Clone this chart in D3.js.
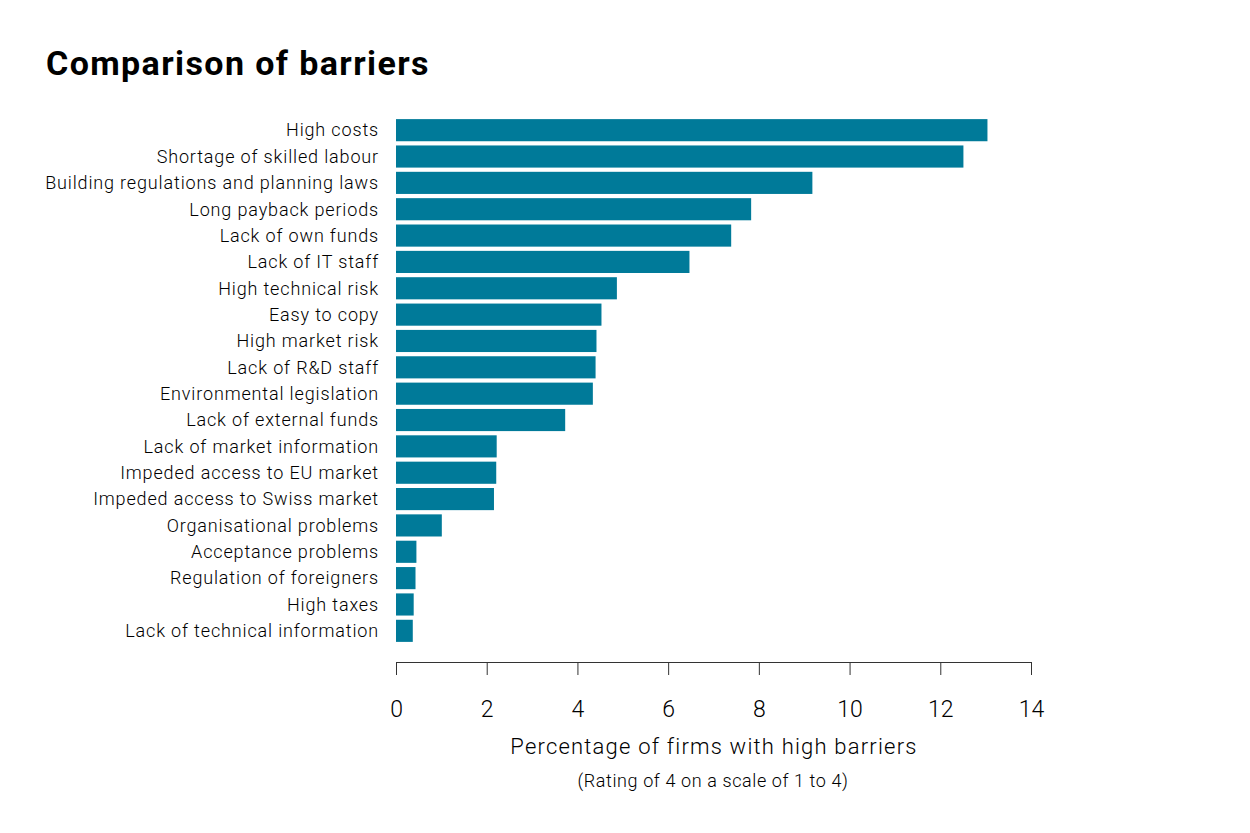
<!DOCTYPE html>
<html>
<head>
<meta charset="utf-8">
<style>
  body { margin: 0; background: #fff; }
  svg { font-family: Roboto, "Liberation Sans", sans-serif; }
</style>
</head>
<body>
<svg width="1250" height="833"></svg>
<script src="https://cdn.jsdelivr.net/npm/d3@7"></script>
<script>

var categories = [
  "High costs", "Shortage of skilled labour", "Building regulations and planning laws",
  "Long payback periods", "Lack of own funds", "Lack of IT staff", "High technical risk",
  "Easy to copy", "High market risk", "Lack of R&D staff", "Environmental legislation",
  "Lack of external funds", "Lack of market information", "Impeded access to EU market",
  "Impeded access to Swiss market", "Organisational problems", "Acceptance problems",
  "Regulation of foreigners", "High taxes", "Lack of technical information"
];

var values = [
  13.04, 12.51, 9.18, 7.83, 7.39, 6.47, 4.87,
  4.53, 4.42, 4.40, 4.34, 3.73, 2.22, 2.21,
  2.16, 1.01, 0.45, 0.43, 0.39, 0.37
];

var xTicks = [0, 2, 4, 6, 8, 10, 12, 14];

var svg = d3.select("svg");

var x = d3.scaleLinear().domain([0, 14]).range([396, 1031]);
var y = d3.scaleBand().domain(categories).range([117, 644]).paddingInner(0.16).paddingOuter(0.08);

svg.append("text")
    .attr("x", 46)
    .attr("y", 75)
    .attr("font-size", 34)
    .attr("font-weight", "bold")
    .attr("letter-spacing", 1.4)
    .attr("fill", "#000")
    .text("Comparison of barriers");

svg.append("g")
    .selectAll("rect")
    .data(values)
    .enter().append("rect")
      .attr("x", x(0))
      .attr("y", function(d, i) { return y(categories[i]); })
      .attr("width", function(d) { return x(d) - x(0); })
      .attr("height", y.bandwidth())
      .attr("fill", "#007a99");

svg.append("g")
    .attr("font-size", 18)
    .attr("font-weight", 300)
    .attr("letter-spacing", 0.85)
    .attr("text-anchor", "end")
  .selectAll("text")
  .data(categories)
  .enter().append("text")
    .attr("x", 379)
    .attr("y", function(d) { return y(d) + y.bandwidth() / 2; })
    .attr("dy", "0.35em")
    .attr("fill", "#000")
    .text(function(d) { return d; });

var axis = svg.append("g")
    .attr("transform", "translate(0,662)")
    .call(d3.axisBottom(x).tickValues(xTicks).tickSize(13).tickPadding(26).tickSizeOuter(0));

axis.select(".domain").attr("stroke", "#333");
axis.selectAll(".tick line").attr("stroke", "#333");
axis.selectAll(".tick text")
    .attr("font-size", 23)
    .attr("font-family", "Roboto, sans-serif")
    .attr("font-weight", 300)
    .attr("fill", "#000");

svg.append("text")
    .attr("x", 714)
    .attr("y", 754)
    .attr("text-anchor", "middle")
    .attr("font-size", 22)
    .attr("font-weight", 300)
    .attr("letter-spacing", 1.2)
    .attr("fill", "#000")
    .text("Percentage of firms with high barriers");

svg.append("text")
    .attr("x", 713)
    .attr("y", 787)
    .attr("text-anchor", "middle")
    .attr("font-size", 18)
    .attr("font-weight", 300)
    .attr("letter-spacing", 0.6)
    .attr("fill", "#000")
    .text("(Rating of 4 on a scale of 1 to 4)");

</script>
</body>
</html>
